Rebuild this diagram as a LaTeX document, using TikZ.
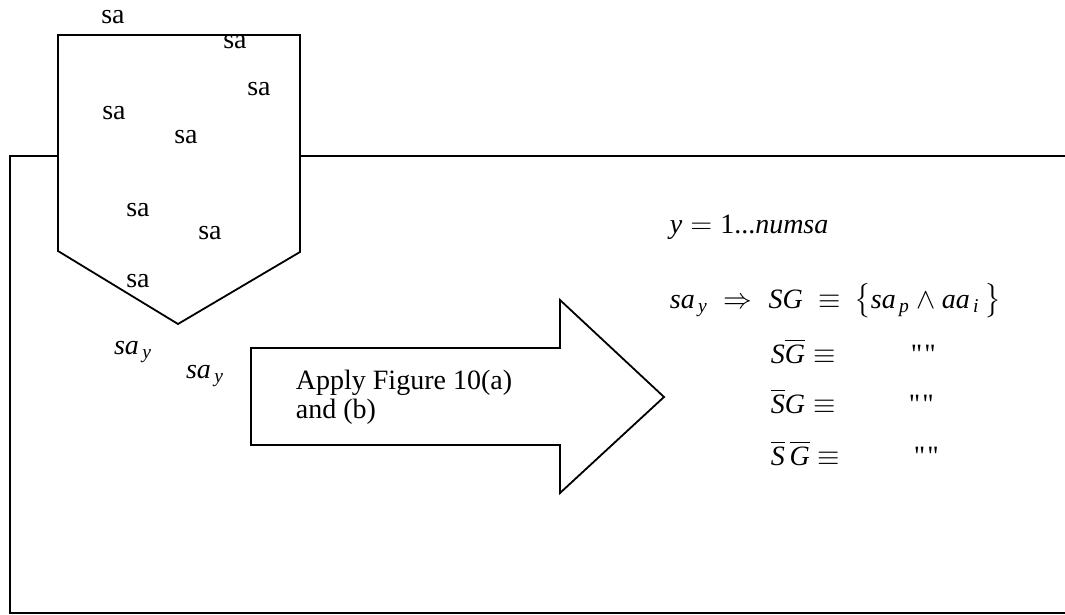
\documentclass[tikz,border=0pt]{standalone}
\usepackage{amsmath}
\usepackage{fontspec}
\setmainfont{Liberation Serif}
\usetikzlibrary{positioning}
\newcommand{\vi}[1]{\textit{#1}}
\newcommand{\dq}{{\addfontfeatures{Ligatures=TeXOff}"\kern1pt"}}

\begin{document}
\begin{tikzpicture}[x=0.5pt, y=-0.5pt, line width=0.9pt,
    every node/.style={font=\fontsize{14}{14.5}\selectfont, inner sep=0pt},
    eq/.style={anchor=base west}]
        \useasboundingbox (0,0) rectangle (1065,615);

        % outer frame, open on the right
        \draw (58,156) -- (10,156) -- (10,613) -- (1065,613);
        \draw (300,156) -- (1065,156);

        % pentagon
        \draw (58,35) -- (300,35) -- (300,252) -- (178,324) -- (58,251) -- cycle;
        \foreach \x/\y [count=\i] in {113/17, 235/42, 259/89, 114/113, 186/137, 138/210, 210/233, 138/281}
            \node (sa\i) at (\x,\y) {sa};
        \node (say1) at (133,352) {$\vi{sa}_{\,\vi{y}}$};
        \node (say2) at (205,376) {$\vi{sa}_{\,\vi{y}}$};

        % big arrow
        \draw (251,348) -- (560,348) -- (560,300) -- (664,397) -- (560,493)
            -- (560,445) -- (251,445) -- cycle;
        \node[align=left, anchor=west] (apply) at (295,397) {Apply Figure 10(a)\\and (b)};

        % right hand side
        \node[eq] (ln0) at (669,233) {$\vi{y} = \text{1...}\vi{numsa}$};
        \node[eq] (ln1) at (669,308) {$\vi{sa}_{\,\vi{y}}\;\Rightarrow\; \vi{SG} \;\equiv\,
            \bigl\{\vi{sa}_{\,\vi{p}} \wedge \vi{aa}_{\,\vi{i}}\,\bigr\}$};
        \node[eq] (ln2) at (770,363) {$\vi{S}\overline{\vi{G}} \equiv$};
        \node[eq] (ln3) at (770,413) {$\overline{\vi{S}}\vi{G} \equiv$};
        \node[eq] (ln4) at (770,465) {$\overline{\vi{S}}\,\overline{\vi{G}} \equiv$};
        \node[eq] (q2) at (910,363) {\dq};
        \node[eq] (q3) at (908,413) {\dq};
        \node[eq] (q4) at (913,465) {\dq};
\end{tikzpicture}
\end{document}
